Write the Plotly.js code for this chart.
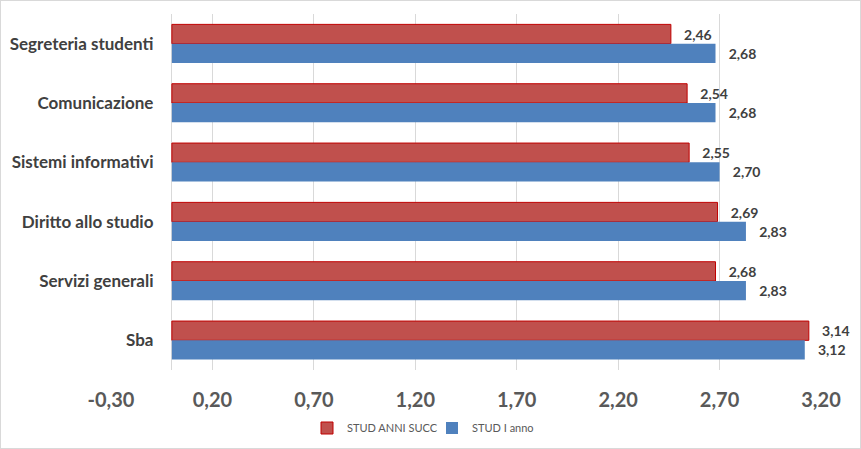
<!DOCTYPE html>
<html>
<head>
<meta charset="utf-8">
<script src="https://cdn.plot.ly/plotly-3.0.1.min.js"></script>
<style>
html,body{margin:0;padding:0;background:#fff;}
#wrap{position:relative;width:861px;height:449px;}
#chart{width:861px;height:449px;}
#frame{position:absolute;left:0;top:0;width:861px;height:449px;box-sizing:border-box;border:1px solid #d9d9d9;pointer-events:none;}
</style>
</head>
<body>
<div id="wrap"><div id="chart"></div><div id="frame"></div></div>
<script>
const categories = ["Segreteria studenti","Comunicazione","Sistemi informativi","Diritto allo studio","Servizi generali","Sba"];
const studAnniSucc = [2.46, 2.54, 2.55, 2.69, 2.68, 3.14];
const studIAnno = [2.68, 2.68, 2.70, 2.83, 2.83, 3.12];
const seriesNames = ["STUD ANNI SUCC", "STUD I anno"];
const tickValues = [-0.30, 0.20, 0.70, 1.20, 1.70, 2.20, 2.70, 3.20];
const tickLabels = ["-0,30","0,20","0,70","1,20","1,70","2,20","2,70","3,20"];

const pad = "\u00a0\u00a0\u00a0";
const labelFont = {family: "Lato, 'Open Sans', sans-serif", size: 14, color: "#404040", weight: "bold"};

const traces = [
  {
    type: "bar", orientation: "h", name: seriesNames[0],
    y: categories, x: studAnniSucc,
    marker: {color: "#c0504d", line: {color: "#c00000", width: 1}},
    texttemplate: pad + "%{x:.2f}", textposition: "outside", cliponaxis: false,
    textfont: labelFont, hoverinfo: "none"
  },
  {
    type: "bar", orientation: "h", name: seriesNames[1],
    y: categories, x: studIAnno,
    marker: {color: "#4f81bd", line: {width: 0}},
    texttemplate: pad + "%{x:.2f}", textposition: "outside", cliponaxis: false,
    textfont: labelFont, hoverinfo: "none"
  }
];

const L = 111, R = 40, T = 14, B = 79;

const layout = {
  width: 861, height: 449,
  margin: {l: L, r: R, t: T, b: B, pad: 0, autoexpand: false},
  paper_bgcolor: "#ffffff", plot_bgcolor: "#ffffff",
  separators: ",.",
  barmode: "group", bargap: 0.35, bargroupgap: 0,
  showlegend: true,
  legend: {
    orientation: "h", xref: "container", yref: "container",
    x: 432 / 861, xanchor: "center", y: 1 - 428 / 449, yanchor: "middle",
    font: {family: "Lato, 'Open Sans', sans-serif", size: 11, color: "#595959"},
    itemwidth: 30, entrywidth: 80, traceorder: "normal"
  },
  xaxis: {
    range: [-0.30, 3.20], tickmode: "array", tickvals: tickValues, ticktext: tickLabels,
    showgrid: true, gridcolor: "#d9d9d9", gridwidth: 1,
    zeroline: true, zerolinecolor: "#d9d9d9", zerolinewidth: 1,
    showline: false, ticks: "outside", ticklen: 12, tickcolor: "rgba(0,0,0,0)",
    tickfont: {family: "Lato, 'Open Sans', sans-serif", size: 20, color: "#595959", weight: "bold"},
    automargin: false, fixedrange: true
  },
  yaxis: {
    type: "category", autorange: "reversed",
    anchor: "free", position: (0 - (-0.30)) / 3.50,
    showgrid: false, zeroline: false, showline: false,
    ticks: "outside", ticklen: 15, tickcolor: "rgba(0,0,0,0)",
    tickfont: {family: "Lato, 'Open Sans', sans-serif", size: 17, color: "#404040", weight: "bold"},
    automargin: false, fixedrange: true
  }
};

Plotly.newPlot("chart", traces, layout, {displayModeBar: false, staticPlot: true});
</script>
</body>
</html>
